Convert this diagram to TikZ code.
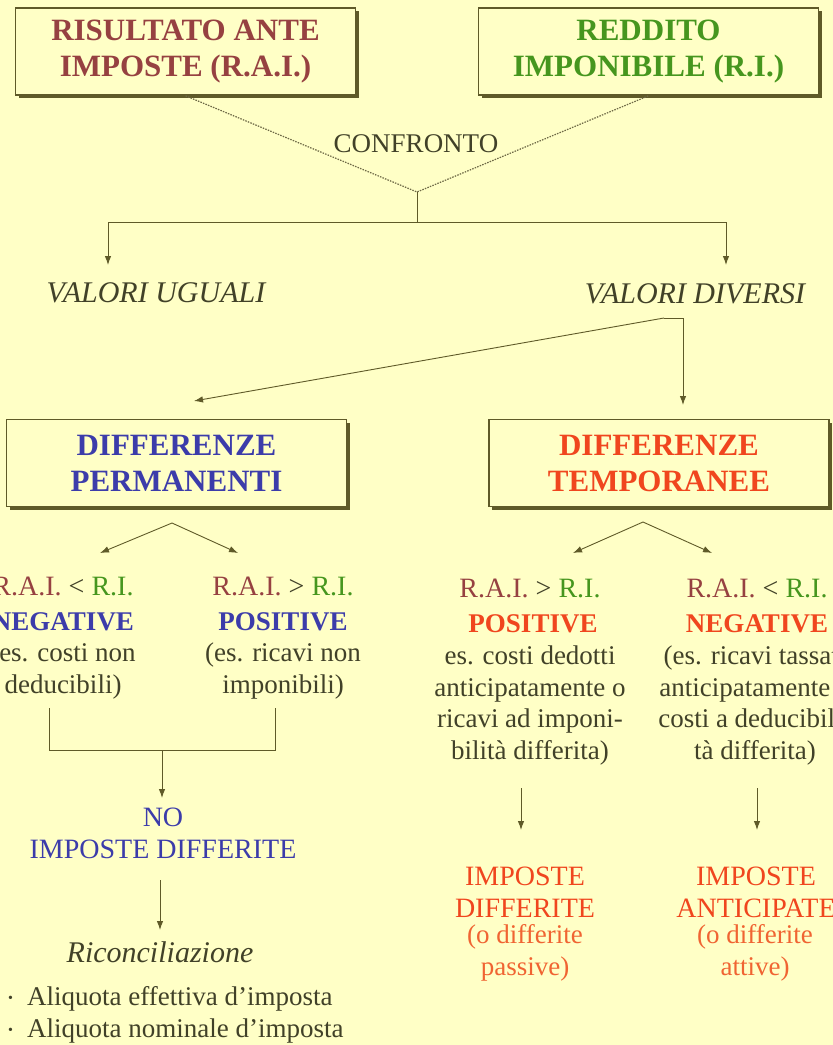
\documentclass[tikz,border=0pt]{standalone}
\usepackage{fontspec}
\setmainfont{Liberation Serif}
\usetikzlibrary{shadows,arrows.meta}

\definecolor{bgcol}{RGB}{255,255,198}
\definecolor{linecol}{RGB}{95,90,40}
\definecolor{dotcol}{RGB}{110,105,70}
\definecolor{txtcol}{RGB}{65,65,40}
\definecolor{raicol}{RGB}{150,65,65}
\definecolor{ricol}{RGB}{70,150,30}
\definecolor{permcol}{RGB}{60,60,170}
\definecolor{tempcol}{RGB}{240,70,30}
\definecolor{notecol}{RGB}{240,100,50}

\newcommand{\headfont}{\fontsize{31}{36}\selectfont\bfseries}
\newcommand{\valfont}{\fontsize{30}{32}\selectfont\itshape}
\newcommand{\condfont}{\fontsize{28}{32}\selectfont}
\newcommand{\signfont}{\fontsize{27}{30}\selectfont\bfseries}
\newcommand{\exfont}{\fontsize{27}{31.5}\selectfont}
\newcommand{\rai}{{\color{raicol}R.A.I.}}
\newcommand{\ri}{{\color{ricol}R.I.}}
\newcommand{\dotitem}{\raisebox{3pt}{\fontsize{14}{14}\selectfont\textbullet}\hspace{14pt}}

\tikzset{
  box/.style={draw=linecol, line width=1.6pt, fill=bgcol, align=center, font=\headfont,
    minimum width=340pt, minimum height=87pt,
    drop shadow={shadow xshift=3pt, shadow yshift=-3pt, fill=linecol, opacity=1}},
  link/.style={draw=linecol, line width=0.9pt},
  txt/.style={text=txtcol, anchor=base, inner sep=0pt, align=center},
}

\begin{document}
\begin{tikzpicture}[x=1pt,y=-1pt,>={Latex[length=9pt,width=6.5pt]}]
\useasboundingbox (0,0) rectangle (833,1045);
\clip (0,0) rectangle (833,1045);
\fill[bgcol] (0,0) rectangle (833,1045);

% confronto
\node[box, text=raicol] (rai) at (185.5,51.5) {RISULTATO ANTE\\IMPOSTE (R.A.I.)};
\node[box, text=ricol] (ri) at (648.5,51.5) {REDDITO\\IMPONIBILE (R.I.)};
\node[txt, font=\fontsize{27}{30}\selectfont] (confronto) at (416,152) {CONFRONTO};
\coordinate (join) at (417,192);
\coordinate (split) at (417,222);
\draw[link, draw=dotcol, line width=1.2pt, dash pattern=on 1.5pt off 1.2pt] (rai.south) -- (join) -- (ri.south);
\draw[link] (join) -- (split);

\coordinate (ugtip) at (108,265);
\coordinate (ditip) at (726,265);
\draw[link,->] (split) -| (ugtip);
\draw[link,->] (split) -| (ditip);
\node[txt, font=\valfont] (uguali) at (156,302) {VALORI UGUALI};
\node[txt, font=\valfont] (diversi) at (695,303) {VALORI DIVERSI};

% differenze
\node[box, text=permcol] (perm) at (176.5,463) {DIFFERENZE\\PERMANENTI};
\node[box, text=tempcol] (temp) at (659,463) {DIFFERENZE\\TEMPORANEE};
\coordinate (forkl) at (664,318);
\coordinate (fork) at (683,318);
\coordinate (temptip) at (683,405);
\coordinate (permtip) at (194,401);
\draw[link] (forkl) -- (fork);
\draw[link,->] (fork) -- (temptip);
\draw[link,->] (forkl) -- (permtip);

\coordinate (pa) at (172,523);
\coordinate (pl) at (100,553);
\coordinate (pr) at (238,553);
\draw[link,->] (pa) -- (pl);
\draw[link,->] (pa) -- (pr);
\coordinate (ta) at (643,522);
\coordinate (tl) at (573,553);
\coordinate (tr) at (712,553);
\draw[link,->] (ta) -- (tl);
\draw[link,->] (ta) -- (tr);

% permanenti (base = last line)
\node[txt, font=\condfont] (pncond) at (63,595) {\rai{} < \ri};
\node[txt, font=\signfont, text=permcol] (pnsign) at (63,630) {NEGATIVE};
\node[txt, font=\exfont] (pnex) at (63,693) {(es. costi non\\deducibili)};
\node[txt, font=\condfont] (ppcond) at (283,595) {\rai{} > \ri};
\node[txt, font=\signfont, text=permcol] (ppsign) at (283,630) {POSITIVE};
\node[txt, font=\exfont] (ppex) at (283,693) {(es. ricavi non\\imponibili)};

\coordinate (bl) at (49,708);
\coordinate (br) at (275,708);
\coordinate (bbot) at (162,750);
\coordinate (notip) at (162,798);
\draw[link] (bl) |- (bbot) -| (br);
\draw[link,->] (bbot) -- (notip);
\node[txt, font=\condfont, text=permcol] (noimp) at (163,858) {NO\\IMPOSTE DIFFERITE};
\coordinate (nob) at (160,880);
\coordinate (ricotip) at (160,930);
\draw[link,->] (nob) -- (ricotip);
\node[txt, font=\valfont] (rico) at (160,962) {Riconciliazione};
\node[txt, font=\exfont, anchor=base west, align=left] (aliq) at (8,1037)
  {\dotitem Aliquota effettiva d’imposta\\
   \dotitem Aliquota nominale d’imposta};

% temporanee
\node[txt, font=\condfont] (tpcond) at (530,597) {\rai{} > \ri};
\node[txt, font=\signfont, text=tempcol] (tpsign) at (533,632) {POSITIVE};
\node[txt, font=\exfont] (tpex) at (530,759) {es. costi dedotti\\anticipatamente o\\ricavi ad imponi-\\bilità differita)};
\node[txt, font=\condfont] (tncond) at (757,597) {\rai{} < \ri};
\node[txt, font=\signfont, text=tempcol] (tnsign) at (757,632) {NEGATIVE};
\node[txt, font=\exfont] (tnex) at (755,759) {(es. ricavi tassati\\anticipatamente o\\costi a deducibili-\\tà differita)};

\coordinate (tpa) at (521,788);
\coordinate (tpb) at (521,830);
\coordinate (tna) at (757,788);
\coordinate (tnb) at (757,830);
\draw[link,->] (tpa) -- (tpb);
\draw[link,->] (tna) -- (tnb);
\node[txt, font=\condfont, text=tempcol] (impdiff) at (525,917) {IMPOSTE\\DIFFERITE};
\node[txt, font=\exfont, text=notecol] (passive) at (525,975) {(o differite\\passive)};
\node[txt, font=\condfont, text=tempcol] (impant) at (756,917) {IMPOSTE\\ANTICIPATE};
\node[txt, font=\exfont, text=notecol] (attive) at (755,975) {(o differite\\attive)};
\end{tikzpicture}
\end{document}
